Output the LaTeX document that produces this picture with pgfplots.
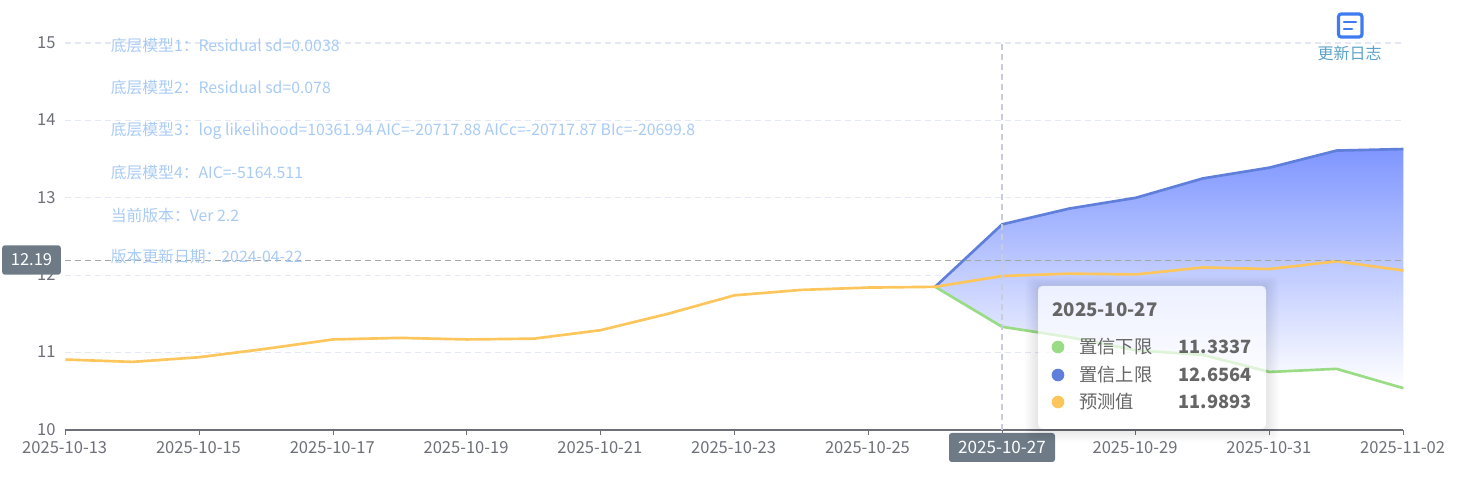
\documentclass[border=0pt]{standalone}
\usepackage{fontspec}
\setmainfont{Noto Sans CJK SC}
\usepackage{pgfplots}
\pgfplotsset{compat=1.18}
\definecolor{axisgray}{HTML}{6E7079}
\definecolor{gridc}{HTML}{E3E8F4}
\definecolor{uppc}{HTML}{5F7FDB}
\definecolor{lowc}{HTML}{9ADB85}
\definecolor{fcst}{HTML}{FDC65C}
\definecolor{areatop}{HTML}{7F96FF}
\definecolor{notec}{HTML}{A8CBF5}
\definecolor{pill}{HTML}{6E7B87}
\definecolor{cross}{HTML}{C8CCDC}
\definecolor{logc}{HTML}{5BA3C9}
\definecolor{iconc}{HTML}{3F7BF0}
\definecolor{tipt}{HTML}{666666}
\newcommand{\px}{\fontsize{12.4pt}{14pt}\selectfont}
\begin{document}
\begin{tikzpicture}
% pixel coordinates of the reference image
\begin{scope}[x=.75pt,y=-.75pt,xshift=-49.1pt,yshift=322.5pt]
\path[use as bounding box] (0,0) rectangle (1465,485);
\end{scope}
\begin{axis}[
at={(0,0)},anchor=south west,
scale only axis,
width=1003.5pt,height=290.25pt,
xmin=0,xmax=20,ymin=10,ymax=15,
axis y line=left,axis x line=bottom,
axis line style={axisgray,line width=.8pt,-},
y axis line style={draw=none},
xtick={0,2,...,20},
xticklabels={2025-10-13,2025-10-15,2025-10-17,2025-10-19,2025-10-21,2025-10-23,2025-10-25,2025-10-27,2025-10-29,2025-10-31,2025-11-02},
ytick={10,11,12,13,14,15},
ymajorgrids,
grid style={gridc,line width=1pt,dash pattern=on 4.5pt off 3pt},
tick style={axisgray,line width=.8pt},
major tick length=3.75pt,
xtick align=outside,
ytick style={draw=none},
ticklabel style={font=\px,text=axisgray},
yticklabel style={xshift=-2pt,yshift=.5pt},
xticklabel style={yshift=-1pt,xshift=-.6pt},
/pgf/number format/assume math mode=true,
clip=false,
]
% confidence band
\addplot[draw=none,top color=areatop,bottom color=white,forget plot] coordinates {
(13,11.85)(14,12.6564)(15,12.86)(16,13.00)(17,13.25)(18,13.39)(19,13.61)(20,13.63)
(20,10.54)(19,10.79)(18,10.75)(17,10.97)(16,11.03)(15,11.20)(14,11.3337)(13,11.85)} -- cycle;
\addplot[uppc,line width=2pt,line join=round] coordinates {
(13,11.85)(14,12.6564)(15,12.86)(16,13.00)(17,13.25)(18,13.39)(19,13.61)(20,13.63)};
\addplot[lowc,line width=2pt,line join=round] coordinates {
(13,11.85)(14,11.3337)(15,11.20)(16,11.03)(17,10.97)(18,10.75)(19,10.79)(20,10.54)};
\addplot[fcst,line width=2pt,line join=round] coordinates {
(0,10.91)(1,10.88)(2,10.94)(3,11.05)(4,11.17)(5,11.19)(6,11.17)(7,11.18)(8,11.29)(9,11.50)(10,11.74)(11,11.81)(12,11.84)(13,11.85)
(14,11.9893)(15,12.02)(16,12.01)(17,12.10)(18,12.08)(19,12.18)(20,12.06)};
% crosshair
\addplot[cross,line width=1pt,dash pattern=on 4.5pt off 3pt] coordinates {(14,10)(14,15)};
\addplot[black!35,line width=1pt,dash pattern=on 4.5pt off 3pt] coordinates {(0,12.19)(20,12.19)};
\end{axis}
\begin{scope}[x=.75pt,y=-.75pt,xshift=-49.1pt,yshift=322.5pt]
% model notes
\foreach \yy/\tt in {46/底层模型1：Residual sd=0.0038,88/底层模型2：Residual sd=0.078,131/底层模型3：log likelihood=10361.94 AIC=-20717.88 AICc=-20717.87 BIc=-20699.8,173/底层模型4：AIC=-5164.511,215/当前版本：Ver 2.2,257/版本更新日期：2024-04-22}
  \node[anchor=west,inner sep=0pt,text=notec,font=\fontsize{11.86pt}{14pt}\selectfont] at (110.5,\yy) {\tt};
% axis pointer labels
\node[fill=pill,rounded corners=2pt,text=white,font=\fontsize{12.4pt}{14pt}\selectfont,minimum width=44pt,minimum height=22pt,inner sep=0pt] at (31.5,260) {12.19};
\node[fill=pill,rounded corners=2pt,text=white,font=\fontsize{12.8pt}{14pt}\selectfont,minimum width=79.5pt,minimum height=21.75pt,inner sep=0pt] at (1002,447.5) {2025-10-27};
% tooltip
\foreach \g in {1,...,8}
  \fill[black,opacity=.012,even odd rule,rounded corners=5pt] (1038-\g*1.6,286-\g*1.2) rectangle (1266+\g*1.6,429+\g*1.6) (1038,286) rectangle (1266,429);
\fill[white,opacity=.68,rounded corners=3pt] (1038,286) rectangle (1266,429);
\node[anchor=west,inner sep=0pt,text=tipt,font=\fontsize{14pt}{16pt}\selectfont\bfseries] at (1052,310) {2025-10-27};
\foreach \yy/\cc/\nn/\vv in {347/lowc/置信下限/11.3337,375/uppc/置信上限/12.6564,402/fcst/预测值/11.9893}{
  \node[circle,fill=\cc,minimum size=9.5pt,inner sep=0pt] at (1058,\yy) {};
  \node[anchor=west,inner sep=0pt,text=tipt,font=\fontsize{13.7pt}{16pt}\selectfont] at (1079,\yy) {\nn};
  \node[anchor=east,inner sep=0pt,text=tipt,font=\fontsize{13.7pt}{16pt}\selectfont\bfseries] at (1252,\yy) {\vv};
}
% change-log icon
\draw[iconc,line width=2.4pt,rounded corners=2pt,fill=white] (1338.5,14) rectangle (1362,37);
\draw[iconc,line width=2pt,line cap=round] (1344,22) -- (1356,22) (1344,29) -- (1352,29);
\node[inner sep=0pt,text=logc,font=\fontsize{12pt}{14pt}\selectfont] at (1349.5,53) {更新日志};
\end{scope}
\end{tikzpicture}
\end{document}
